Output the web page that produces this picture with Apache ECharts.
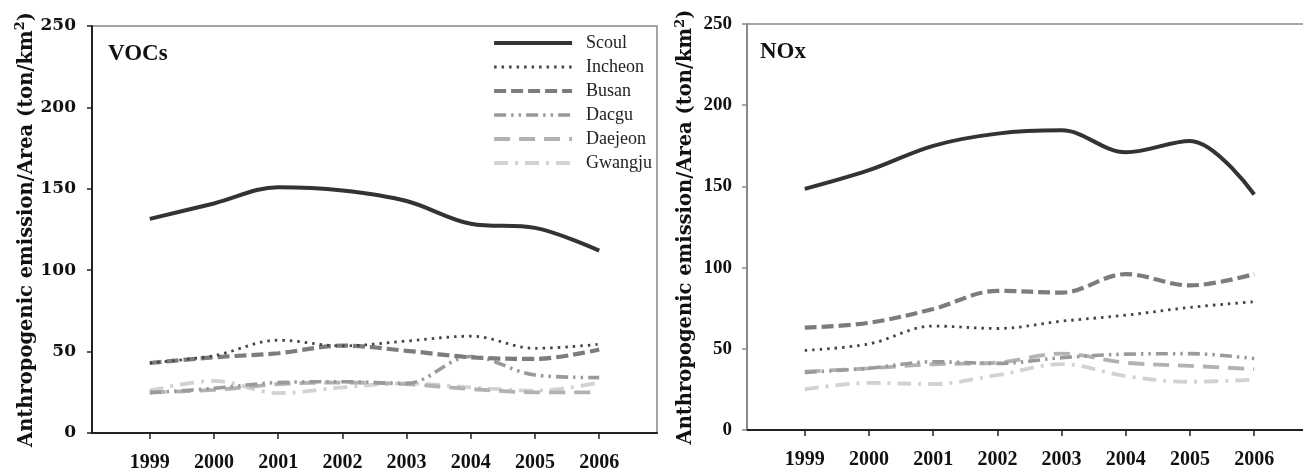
<!DOCTYPE html>
<html><head><meta charset="utf-8">
<script src="https://cdn.jsdelivr.net/npm/echarts@6/dist/echarts.min.js"></script>
<style>html,body{margin:0;padding:0;background:#fff}#c{width:1303px;height:468px}</style>
</head><body><div id="c"></div>
<script>
var years = [1999, 2000, 2001, 2002, 2003, 2004, 2005, 2006];
var cities = ['Scoul', 'Incheon', 'Busan', 'Dacgu', 'Daejeon', 'Gwangju'];
var yTicks = [0, 50, 100, 150, 200, 250];
// VOCs (left panel)
var vocSeoul   = [131.5, 141, 151, 149, 142.5, 128.5, 126, 112];
var vocIncheon = [43, 47.5, 57, 53.5, 56.5, 59.5, 52, 54.5];
var vocBusan   = [43, 46.5, 49, 53.7, 50.5, 46.5, 45.5, 51.3];
var vocDaegu   = [24.7, 27.4, 31, 31.5, 30.5, 47, 35.6, 34];
var vocDaejeon = [25, 26.5, 30, 31, 30, 27, 25, 25];
var vocGwangju = [26, 32, 24.5, 28, 30.5, 28, 26, 31];
// NOx (right panel)
var noxSeoul   = [148.5, 160, 175, 182.5, 184.5, 171, 178, 145];
var noxIncheon = [49, 53, 64, 62.5, 67, 70.7, 75.5, 79];
var noxBusan   = [63, 66, 74.5, 85.7, 84.6, 96, 89, 96];
var noxDaegu   = [35.5, 38, 42, 41, 44.5, 46.7, 47, 44];
var noxDaejeon = [36, 38, 40.5, 41.5, 47, 41.4, 39.5, 37.5];
var noxGwangju = [25, 29, 28.3, 33.8, 40.6, 33.2, 29.7, 31];

var styles = [
  {color:'#333333', width:4, type:'solid'},
  {color:'#444444', width:2.8, type:[2.5,5]},
  {color:'#7c7c7c', width:4.2, type:[12,5]},
  {color:'#9a9a9a', width:3.6, type:[12,5,2.5,5,2.5,5]},
  {color:'#b2b2b2', width:3.8, type:[16,9]},
  {color:'#d2d2d2', width:3.8, type:[14,7,3,7]}
];
var vocData = [vocSeoul, vocIncheon, vocBusan, vocDaegu, vocDaejeon, vocGwangju];
var noxData = [noxSeoul, noxIncheon, noxBusan, noxDaegu, noxDaejeon, noxGwangju];

function pairs(arr){ return years.map(function(y,i){ return [y, arr[i]]; }); }

var serif = 'Liberation Serif';
var dserif = 'DejaVu Serif';
function xAxis(gi){
  return {
    type:'value', gridIndex:gi, min:1998.1, max:2006.9,
    splitLine:{show:false},
    axisLine:{show:true, onZero:false, lineStyle:{color:'#222', width:2}},
    axisTick:{show:true, inside:false, length:6, customValues:years, lineStyle:{color:'#222', width:1.5}},
    axisLabel:{customValues:years, margin:20, fontFamily:serif, fontWeight:'bold', fontSize:20, color:'#111',
      formatter:function(v){return String(v);}}
  };
}
function yAxis(gi, font, size, margin, gap, lineColor){
  return {
    type:'value', gridIndex:gi, min:0, max:250, interval:50,
    splitLine:{show:false},
    axisLine:{show:true, lineStyle:{color:lineColor, width:2}},
    axisTick:{show:true, length:5, lineStyle:{color:lineColor, width:1.5}},
    axisLabel:{margin:margin, fontFamily:font, fontWeight:'bold', fontSize:size, color:'#111',
      customValues: yTicks},
    name:'{t|Anthropogenic emission/Area (ton/km}{s|2}{t|)}',
    nameLocation:'middle', nameGap:gap, nameRotate:90,
    nameTextStyle:{
      rich:{
        t:{fontFamily:dserif, fontWeight:'bold', fontSize:19.5, color:'#111', lineHeight:24},
        s:{fontFamily:dserif, fontWeight:'bold', fontSize:13, color:'#111', verticalAlign:'top', lineHeight:13}
      }
    }
  };
}

var series = [];
cities.forEach(function(c, i){
  var st = styles[i];
  series.push({
    name:c, type:'line', xAxisIndex:0, yAxisIndex:0, data:pairs(vocData[i]),
    smooth:0.35, symbol:'none', showSymbol:false, lineStyle:{color:st.color, width:st.width, type:st.type},
    itemStyle:{color:st.color}, z: 10 - i
  });
  series.push({
    name:c, type:'line', xAxisIndex:1, yAxisIndex:1, data:pairs(noxData[i]),
    smooth:0.35, symbol:'none', showSymbol:false, lineStyle:{color:st.color, width:st.width, type:st.type},
    itemStyle:{color:st.color}, z: 10 - i
  });
});

var chart = echarts.init(document.getElementById('c'), null, {renderer:'canvas'});
chart.setOption({
  backgroundColor:'#ffffff',
  animation:false,
  title:[
    {text:'VOCs', left:103, top:38, textStyle:{fontFamily:serif, fontWeight:'bold', fontSize:23, color:'#111'}},
    {text:'NOx', left:755, top:36, textStyle:{fontFamily:serif, fontWeight:'bold', fontSize:23, color:'#111'}}
  ],
  legend:{
    orient:'vertical', left:487, top:29, itemWidth:78, itemHeight:22, itemGap:6,
    data:cities,
    itemStyle:{opacity:0},
    lineStyle:{width:'inherit'},
    textStyle:{fontFamily:serif, fontSize:18, color:'#222', padding:[0,0,0,9]}
  },
  grid:[
    {left:92, top:26, width:565, height:407, show:true, borderColor:'#888', borderWidth:1.5, outerBoundsMode:'none', containLabel:false},
    {left:747, top:24, width:565, height:406, show:true, borderColor:'#888', borderWidth:1.5, outerBoundsMode:'none', containLabel:false}
  ],
  xAxis:[xAxis(0), xAxis(1)],
  yAxis:[yAxis(0, dserif, 17, 16, 53, '#222'), yAxis(1, serif, 19, 15, 49, '#8a8a8a')],
  series:series
});
</script></body></html>
